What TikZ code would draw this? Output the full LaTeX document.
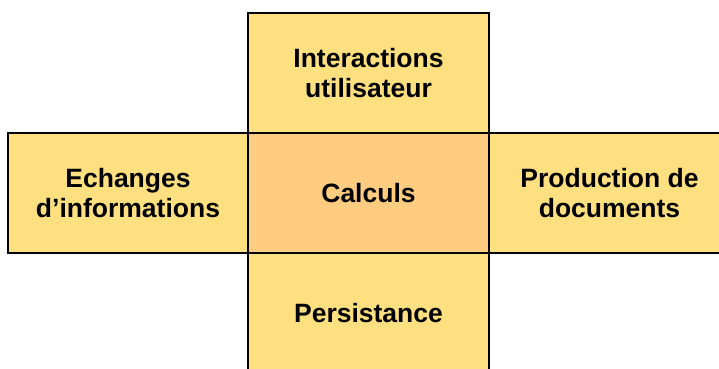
\documentclass[tikz,border=0pt]{standalone}
\usepackage{fontspec}
\setmainfont{Liberation Sans}
\definecolor{boxyellow}{RGB}{255,224,128}
\definecolor{boxorange}{RGB}{255,204,128}
\tikzset{
  cell/.style={draw=black, line width=2pt, fill=boxyellow, minimum width=241pt, minimum height=120pt,
    inner sep=0pt, outer sep=0pt, align=center, text=black,
    font=\fontsize{26.5}{30}\selectfont\bfseries},
  core/.style={cell, fill=boxorange}
}
\begin{document}
\begin{tikzpicture}[x=1pt,y=1pt]
\useasboundingbox (0,0) rectangle (719,368);
\clip (0,0) rectangle (719,368);
\node[cell] (top) at (368.5,295) {Interactions\\utilisateur};
\node[cell] (left) at (128,175) {Echanges\\d’informations};
\node[cell] (right) at (609.5,175) {Production de\\documents};
\node[cell] (bottom) at (368.5,55) {Persistance};
\node[core] (center) at (368.5,175) {Calculs};
\end{tikzpicture}
\end{document}
